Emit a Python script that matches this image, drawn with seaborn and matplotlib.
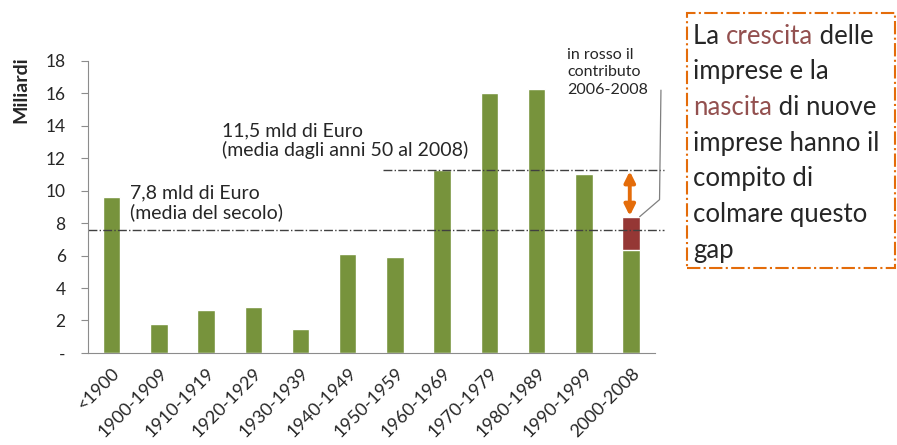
# Investimenti per periodo di fondazione - ricostruzione
import numpy as np
import pandas as pd
import matplotlib
matplotlib.use("Agg")
import matplotlib.pyplot as plt
import seaborn as sns
from matplotlib.patches import Rectangle

# ------------------------------
# Data
# ------------------------------
periods = ["<1900", "1900-1909", "1910-1919", "1920-1929", "1930-1939", "1940-1949",
           "1950-1959", "1960-1969", "1970-1979", "1980-1989", "1990-1999", "2000-2008"]
base_values = [9.6, 1.8, 2.65, 2.85, 1.5, 6.1, 5.9, 11.3, 16.05, 16.3, 11.05, 6.35]
contrib_2006_2008 = [0, 0, 0, 0, 0, 0, 0, 0, 0, 0, 0, 2.05]
mean_century = 7.55      # drawn level of the "7,8 mld" line
mean_since_50 = 11.25    # drawn level of the "11,5 mld" line
y_ticks = [0, 2, 4, 6, 8, 10, 12, 14, 16, 18]
y_tick_labels = ["-", "2", "4", "6", "8", "10", "12", "14", "16", "18"]

df = pd.DataFrame({"periodo": periods, "base": base_values, "extra": contrib_2006_2008})
df["totale"] = df["base"] + df["extra"]

green = "#77933C"
red = "#953735"
text_red = "#93504F"
orange = "#E46C0A"
text_col = "#262626"

sns.set_style("white")
plt.rcParams["font.family"] = ["Lato", "DejaVu Sans"]

fig = plt.figure(figsize=(8.97, 4.45), dpi=100)
ax = fig.add_axes([0.098, 0.207, 0.632, 0.656])

# stacked bars: total in red, base in green on top
sns.barplot(data=df, x="periodo", y="totale", color=red, width=0.37, saturation=1, ax=ax)
sns.barplot(data=df, x="periodo", y="base", color=green, width=0.37, saturation=1, ax=ax)

ax.set_xlim(-0.5, len(periods) - 0.5)
ax.set_ylim(0, 18)
ax.set_yticks(y_ticks)
ax.set_yticklabels(y_tick_labels, fontsize=12.5, color=text_col)
ax.set_xticks(range(len(periods)))
ax.set_xticklabels(periods, rotation=45, ha="right", rotation_mode="anchor", fontsize=13, color=text_col)
ax.set_xticks(np.arange(-0.5, len(periods), 1), minor=True)
ax.tick_params(axis="x", which="major", length=0, pad=9)
ax.tick_params(axis="x", which="minor", length=5, color="#8c8c8c", width=0.8)
ax.tick_params(axis="y", length=5, color="#8c8c8c", width=0.8, left=True, pad=11)
ax.set_xlabel("")
ax.set_ylabel("Miliardi", fontsize=14, fontweight="bold", color=text_col)
ax.yaxis.set_label_coords(-0.104, 0.9)
sns.despine(ax=ax)
for s in ["left", "bottom"]:
    ax.spines[s].set_color("#8c8c8c")
    ax.spines[s].set_linewidth(0.8)

# mean lines
ax.hlines(mean_century, -0.5, 11.7, colors="#404040", linestyles="-.", lw=1, clip_on=False)
ax.hlines(mean_since_50, 5.75, 11.7, colors="#404040", linestyles="-.", lw=1, clip_on=False)

ax.text(0.39, 9.26, "7,8 mld di Euro\n(media del secolo)", fontsize=14, color=text_col,
        va="center", linespacing=1.1)
ax.text(2.34, 13.1, "11,5 mld di Euro\n(media dagli anni 50 al 2008)", fontsize=14, color=text_col,
        va="center", linespacing=1.1)

# gap arrow
ax.annotate("", xy=(10.97, mean_since_50 - 0.05), xytext=(10.97, df["totale"].iloc[-1] + 0.05),
            arrowprops=dict(arrowstyle="<|-|>", color=orange, lw=2.8, mutation_scale=16,
                            shrinkA=0, shrinkB=0))

# callout for red part
ax.plot([11.18, 11.6, 11.63], [8.4, 9.45, 16.2], color="#7f7f7f", lw=0.9, clip_on=False)
ax.text(9.64, 17.3, "in rosso il\ncontributo\n2006-2008", fontsize=11.5, color=text_col,
        va="center", linespacing=1.3)

# side text box
box = Rectangle((0.766, 0.398), 0.232, 0.573, transform=fig.transFigure, fill=False,
                edgecolor=orange, linestyle="-.", lw=1.5)
fig.add_artist(box)

lines = [
    [("La ", text_col), ("crescita", text_red), (" delle", text_col)],
    [("imprese e la", text_col)],
    [("nascita", text_red), (" di nuove", text_col)],
    [("imprese hanno il", text_col)],
    [("compito di", text_col)],
    [("colmare questo", text_col)],
    [("gap", text_col)],
]
fig.canvas.draw()
renderer = fig.canvas.get_renderer()
x0 = 693 / 897
y_px = 36
for parts in lines:
    x = x0
    for txt, col in parts:
        t = fig.text(x, 1 - y_px / 445, txt, fontsize=18.5, color=col, va="center", ha="left")
        bb = t.get_window_extent(renderer=renderer)
        x += bb.width / fig.bbox.width
    y_px += 35.7

fig.savefig("out.png", dpi=100)
